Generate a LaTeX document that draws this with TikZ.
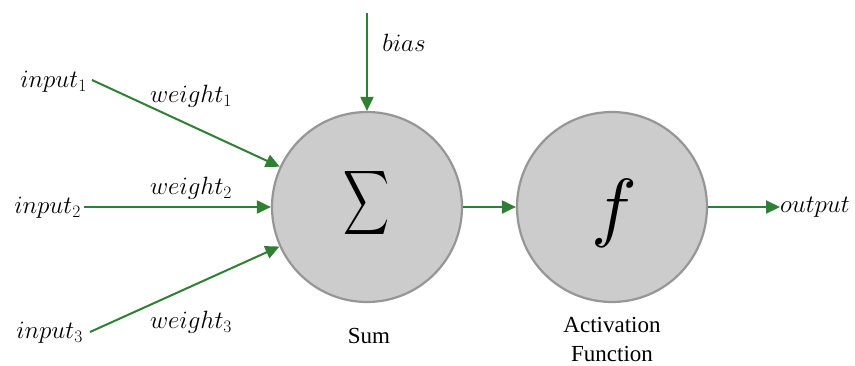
\RequirePackage{fix-cm}
\documentclass[tikz,border=0pt]{standalone}
\usepackage{fontspec}
\usepackage{graphicx}
\setmainfont{Liberation Serif}
\usetikzlibrary{arrows.meta}
\definecolor{arrgreen}{RGB}{46,128,50}
\definecolor{cfill}{RGB}{204,204,204}
\definecolor{cborder}{RGB}{150,150,150}
\tikzset{
  neuron/.style={circle, draw=cborder, fill=cfill, line width=2.2pt, minimum size=190pt, inner sep=0pt},
  arr/.style={draw=arrgreen, line width=2pt, -{Triangle[length=14pt,width=13pt]}},
  mlab/.style={inner sep=0pt, font=\fontsize{25}{29}\selectfont},
  tlab/.style={inner sep=0pt, font=\fontsize{23}{29}\selectfont, align=center}
}
\begin{document}
\begin{tikzpicture}[x=1pt,y=-1pt]
\useasboundingbox (0,0) rectangle (855,365);
\node[neuron] (sum) at (367,207) {};
\node[inner sep=0pt] (sigma) at (367,203) {\resizebox*{46pt}{72pt}{$\displaystyle\sum$}};
\node[neuron] (f) at (612,207) {};
\node[inner sep=0pt] (fsym) at (614,213) {\resizebox*{!}{68pt}{$f$}};
\node[mlab, anchor=east] (in1) at (87,82) {$input_1$};
\node[mlab, anchor=east] (in2) at (81,208) {$input_2$};
\node[mlab, anchor=east] (in3) at (83,333) {$input_3$};
\coordinate (s1) at (92,80);
\coordinate (s2) at (84,207);
\coordinate (s3) at (90,332);
\node[mlab] (w1) at (191,96) {$weight_1$};
\node[mlab] (w2) at (191,188) {$weight_2$};
\node[mlab] (w3) at (191,322) {$weight_3$};
\coordinate (btop) at (367,13);
\node[mlab] (bias) at (404,43) {$bias$};
\node[mlab, anchor=west] (out) at (780,207) {$output$};
\node[tlab] (sumlab) at (369,336) {Sum};
\node[tlab] (actlab) at (612,339) {Activation\\Function};
\draw[arr] (s1) -- (sum);
\draw[arr] (s2) -- (sum);
\draw[arr] (s3) -- (sum);
\draw[arr] (btop) -- (sum);
\draw[arr] (sum) -- (f);
\draw[arr] (f) -- (out.west);
\end{tikzpicture}
\end{document}
